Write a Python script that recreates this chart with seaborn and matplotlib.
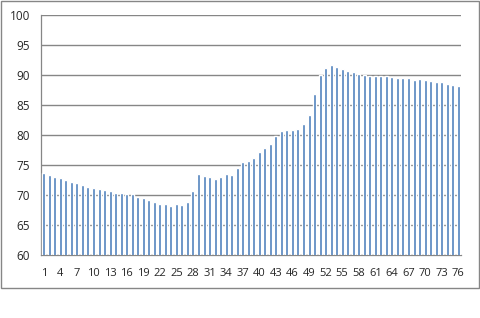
import matplotlib
matplotlib.use("Agg")
import matplotlib.pyplot as plt
import matplotlib.patches as mpatches
import seaborn as sns
import numpy as np
import pandas as pd

categories = [str(i) for i in range(1, 77)]
values = [73.7, 73.4, 73.05, 72.8, 72.55, 72.2, 72.0, 71.7, 71.4, 71.2,
          71.05, 70.8, 70.7, 70.4, 70.4, 70.15, 70.15, 69.7, 69.5, 69.2,
          68.9, 68.55, 68.55, 68.2, 68.5, 68.33, 68.83, 70.7, 73.5, 73.17,
          73.0, 72.67, 73.0, 73.5, 73.33, 74.5, 75.5, 75.67, 76.17, 77.17,
          77.83, 78.55, 79.83, 80.67, 80.83, 80.83, 81.0, 81.83, 83.33, 86.9,
          90.05, 91.17, 91.67, 91.33, 91.0, 90.67, 90.5, 90.17, 90.05, 89.83,
          89.83, 89.83, 89.83, 89.67, 89.5, 89.5, 89.5, 89.17, 89.33, 89.17,
          89.0, 88.83, 88.83, 88.5, 88.33, 88.17]
y_ticks = [60, 65, 70, 75, 80, 85, 90, 95, 100]

df = pd.DataFrame({"cat": categories, "val": values})

sns.set_style("white")
plt.rcParams['font.family'] = ['Open Sans', 'DejaVu Sans']

fig = plt.figure(figsize=(4.81, 3.18), dpi=100)
ax = fig.add_axes([41/481, 63/318, 420/481, 240/318])

sns.barplot(data=df, x="cat", y="val", color="#4F81BD", width=0.55,
            saturation=1, ax=ax, zorder=3)

ax.set_ylim(60, 100)
ax.set_yticks(y_ticks)
ax.set_yticklabels([str(t) for t in y_ticks], fontsize=8.5)
ax.set_xlim(-0.5, len(categories) - 0.5)
pos = list(range(0, len(categories), 3))
ax.set_xticks(pos)
ax.set_xticklabels([categories[i] for i in pos], fontsize=8)
ax.set_xticks(np.arange(-0.5, len(categories), 1.0), minor=True)
ax.tick_params(axis='x', which='major', length=0, pad=9)
ax.tick_params(axis='x', which='minor', length=4, color='#868686', width=0.8, direction='out')
ax.tick_params(axis='y', which='major', length=4, color='#868686', width=0.8, direction='out', pad=4)
ax.set_xlabel("")
ax.set_ylabel("")

ax.grid(axis='y', color='#868686', linewidth=1.0, zorder=0)
ax.set_axisbelow(True)
for s in ['top', 'right']:
    ax.spines[s].set_visible(False)
for s in ['left', 'bottom']:
    ax.spines[s].set_color('#868686')
    ax.spines[s].set_linewidth(0.9)

frame = mpatches.Rectangle((0.5/481, 30/318), 479/481, 287.5/318,
                           transform=fig.transFigure, fill=False,
                           edgecolor='#868686', linewidth=1.0)
fig.patches.append(frame)

fig.savefig("out.png", dpi=100)
